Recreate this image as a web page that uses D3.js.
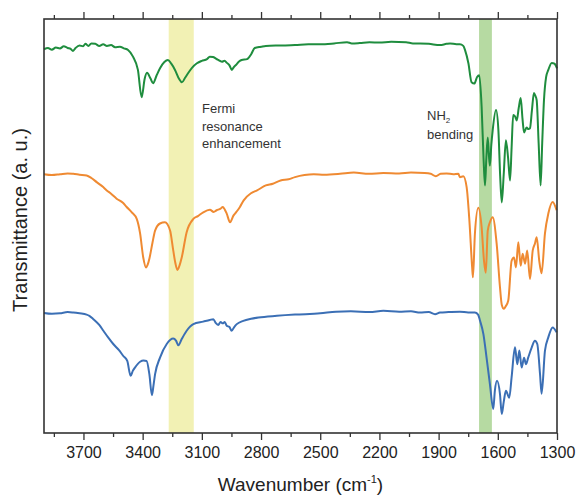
<!DOCTYPE html>
<html><head><meta charset="utf-8">
<script src="https://cdn.jsdelivr.net/npm/d3@7"></script>
<style>body{margin:0;background:#fff}svg{display:block;font-family:Arial,"Liberation Sans",sans-serif}</style>
</head><body><svg id="c" width="579" height="499"></svg>
<script>
// wavenumber (cm^-1) / transmittance (a.u.)
const greenWN = [3900,3880,3860,3840,3819,3800,3780,3765,3753,3740,3720,3702,3690,3675,3660,3640,3620,3600,3581,3560,3540,3515,3495,3474,3449,3424,3405,3390,3378,3360,3347,3330,3312,3290,3272,3255,3236,3215,3201,3185,3170,3150,3125,3100,3074,3060,3043,3020,2998,2985,2973,2960,2948,2938,2927,2910,2898,2871,2850,2832,2800,2776,2700,2628,2560,2500,2430,2364,2340,2300,2250,2200,2140,2065,2030,1994,1950,1893,1860,1842,1810,1792,1775,1766,1749,1733,1719,1705,1694,1682,1672,1665,1658,1651,1645,1640,1633,1626,1609,1597,1588,1580,1570,1559,1548,1538,1530,1522,1513,1504,1494,1484,1475,1467,1454,1445,1437,1427,1417,1410,1403,1393,1383,1375,1366,1355,1344,1327,1313,1300];
const greenT  = [92.7,93.0,92.6,93.1,92.9,93.4,93.0,92.8,92.3,93.0,93.6,93.4,94.0,93.5,94.1,94.0,93.5,93.9,93.5,93.7,93.2,93.3,92.9,92.5,90.9,87.7,81.1,85.5,87.0,85.6,84.5,86.3,88.1,89.6,90.1,89.2,87.7,85.5,84.7,85.8,86.9,88.2,89.3,89.9,90.3,90.9,90.8,90.2,89.7,89.9,89.4,88.8,87.7,88.4,88.9,89.8,90.1,90.3,91.5,93.0,93.3,93.5,93.6,93.7,93.9,93.9,94.1,94.4,94.1,94.2,94.4,94.3,94.5,94.4,94.1,94.1,94.0,93.7,94.0,94.1,93.9,93.9,93.5,92.5,89.3,84.7,84.4,86.0,86.4,78.8,66.0,59.8,66.5,71.4,67.0,64.6,69.5,73.1,78.0,73.1,62.0,55.7,62.5,70.7,66.5,61.0,69.0,76.8,76.5,75.5,78.5,80.9,76.0,72.6,73.8,73.4,73.6,78.0,82.1,81.5,80.4,70.0,59.8,70.0,80.4,86.0,87.7,89.4,89.2,88.1];

const orangeWN = [3900,3860,3819,3780,3752,3720,3684,3660,3633,3600,3582,3560,3532,3500,3481,3455,3430,3413,3397,3383,3375,3366,3350,3337,3312,3287,3261,3245,3234,3224,3213,3202,3177,3143,3120,3093,3059,3040,3025,3005,2994,2984,2974,2957,2940,2925,2907,2888,2851,2820,2776,2740,2701,2660,2628,2580,2533,2480,2400,2330,2253,2180,2100,2040,1971,1940,1914,1890,1860,1826,1800,1792,1775,1758,1744,1730,1726,1716,1699,1682,1670,1661,1651,1640,1626,1606,1589,1580,1569,1560,1547,1530,1518,1508,1496,1484,1474,1462,1451,1437,1423,1412,1403,1390,1378,1361,1344,1322,1302];
const orangeT  = [62.5,62.3,62.5,62.7,62.6,62.4,62.2,61.6,60.6,59.4,58.6,57.8,56.6,55.6,54.6,53.3,51.7,48.2,42.4,40.0,40.6,42.1,46.0,48.9,50.6,50.9,48.9,44.1,41.0,39.4,40.5,42.4,48.5,51.7,52.4,53.3,53.9,53.4,53.8,54.2,54.6,54.0,53.0,50.9,52.5,53.4,54.6,56.2,57.9,58.6,59.8,60.2,61.0,61.3,61.8,62.3,62.5,62.4,62.6,62.9,62.6,62.8,62.7,62.9,62.8,62.6,62.0,62.6,62.7,62.5,62.6,61.8,62.0,59.4,51.3,40.0,37.6,48.2,54.4,49.7,41.6,38.7,48.9,50.9,52.1,45.8,35.2,31.0,30.0,30.6,32.0,41.6,42.4,40.0,46.1,40.4,43.3,40.9,44.1,37.2,44.1,45.7,47.3,41.6,38.6,48.2,53.0,55.8,53.8];

const blueWN = [3900,3860,3819,3780,3752,3720,3684,3670,3650,3620,3599,3575,3549,3520,3498,3478,3461,3450,3439,3413,3395,3380,3366,3353,3345,3337,3312,3278,3245,3231,3219,3202,3177,3143,3093,3060,3042,3030,3017,3005,2994,2984,2974,2960,2949,2936,2923,2890,2850,2813,2720,2628,2500,2420,2345,2250,2180,2100,2040,1994,1950,1918,1893,1850,1792,1750,1716,1700,1690,1673,1657,1640,1623,1615,1604,1589,1580,1570,1559,1542,1530,1513,1501,1491,1479,1467,1457,1446,1428,1412,1400,1386,1378,1361,1344,1322,1302];
const blueT  = [29.0,28.8,28.9,29.2,29.1,28.9,28.6,28.3,27.5,26.1,24.7,23.1,21.5,20.0,18.6,17.4,13.8,15.0,15.8,17.2,17.5,17.4,14.2,9.1,11.5,14.2,18.2,21.5,22.8,22.3,21.2,22.7,24.7,26.3,26.9,27.3,27.5,26.6,26.1,26.8,26.5,26.8,25.9,25.6,24.7,25.6,26.3,27.1,27.6,27.9,28.3,28.6,28.9,29.3,29.4,29.2,29.5,29.3,29.4,29.1,29.2,28.7,29.1,29.2,29.3,29.1,29.1,28.6,27.1,23.9,18.2,11.8,5.8,10.2,12.6,9.4,4.6,7.5,10.2,8.5,13.5,20.7,16.6,19.9,15.8,18.2,16.6,18.2,20.7,22.3,21.5,14.2,9.5,19.9,23.1,25.5,24.3];

const majorTicks = [3700,3400,3100,2800,2500,2200,1900,1600,1300];
const minorTicks = [3850,3550,3250,2950,2650,2350,2050,1750,1450];
const bands = [[3268,3141,"#f2f1b4"],[1695,1630,"#b6daa2"]];
const seriesNames = ["green","orange","blue"];
const seriesColors = ["#1f8d3e","#ef8a32","#3b6fb5"];

const svg = d3.select("#c");
const L=44,R=557,T=19,B=433;
const x = d3.scaleLinear().domain([3900,1300]).range([L,R]);
const y = d3.scaleLinear().domain([0,100]).range([B,T]);

// bands
svg.append("g").selectAll("rect").data(bands).join("rect")
  .attr("x",d=>x(d[0])).attr("width",d=>x(d[1])-x(d[0]))
  .attr("y",T).attr("height",B-T).attr("fill",d=>d[2]);

const line = d3.line().x(d=>x(d[0])).y(d=>y(d[1])).curve(d3.curveMonotoneX);
const series = [[greenWN,greenT],[orangeWN,orangeT],[blueWN,blueT]];
series.forEach((s,i)=>{
  const pts = s[0].map((w,j)=>[w,s[1][j]]);
  svg.append("path").datum(pts).attr("d",line).attr("fill","none")
    .attr("stroke",seriesColors[i]).attr("stroke-width",2).attr("stroke-linejoin","round");
});

// frame
svg.append("rect").attr("x",L).attr("y",T).attr("width",R-L).attr("height",B-T)
  .attr("fill","none").attr("stroke","#333").attr("stroke-width",1.6);

const fmt = d3.format("d");
const gb = svg.append("g").attr("transform",`translate(0,${B})`)
  .call(d3.axisBottom(x).tickValues(majorTicks).tickSize(7).tickPadding(7).tickFormat(fmt));
const gbm = svg.append("g").attr("transform",`translate(0,${B})`)
  .call(d3.axisBottom(x).tickValues(minorTicks).tickSize(4).tickFormat(""));
const gt = svg.append("g").attr("transform",`translate(0,${T})`)
  .call(d3.axisTop(x).tickValues(majorTicks).tickSize(7).tickFormat(""));
const gtm = svg.append("g").attr("transform",`translate(0,${T})`)
  .call(d3.axisTop(x).tickValues(minorTicks).tickSize(4).tickFormat(""));
[gb,gbm,gt,gtm].forEach(g=>{
  g.select(".domain").remove();
  g.selectAll("line").attr("stroke","#333").attr("stroke-width",1.3);
  g.selectAll("text").attr("font-size",16).attr("fill","#222").attr("font-family","Arial, 'Liberation Sans', sans-serif");
});

// axis titles
const xt = svg.append("text").attr("x",(L+R)/2).attr("y",491).attr("text-anchor","middle")
  .attr("font-size",19).attr("fill","#222");
xt.append("tspan").text("Wavenumber (cm");
xt.append("tspan").attr("font-size",11).attr("dy",-8).text("-1");
xt.append("tspan").attr("dy",8).text(")");

svg.append("text").attr("transform","translate(27,220) rotate(-90)").attr("text-anchor","middle")
  .attr("font-size",20).attr("fill","#222").text("Transmittance (a. u.)");

// annotations
const ann = svg.append("text").attr("font-size",13).attr("fill","#333");
["Fermi","resonance","enhancement"].forEach((t,i)=>ann.append("tspan").attr("x",202).attr("y",113+i*17.5).text(t));
const nh = svg.append("text").attr("font-size",13).attr("fill","#333").attr("x",427).attr("y",120);
nh.append("tspan").text("NH");
nh.append("tspan").attr("font-size",8).attr("dy",3).text("2");
svg.append("text").attr("font-size",13).attr("fill","#333").attr("x",427).attr("y",139).text("bending");
</script></body></html>
